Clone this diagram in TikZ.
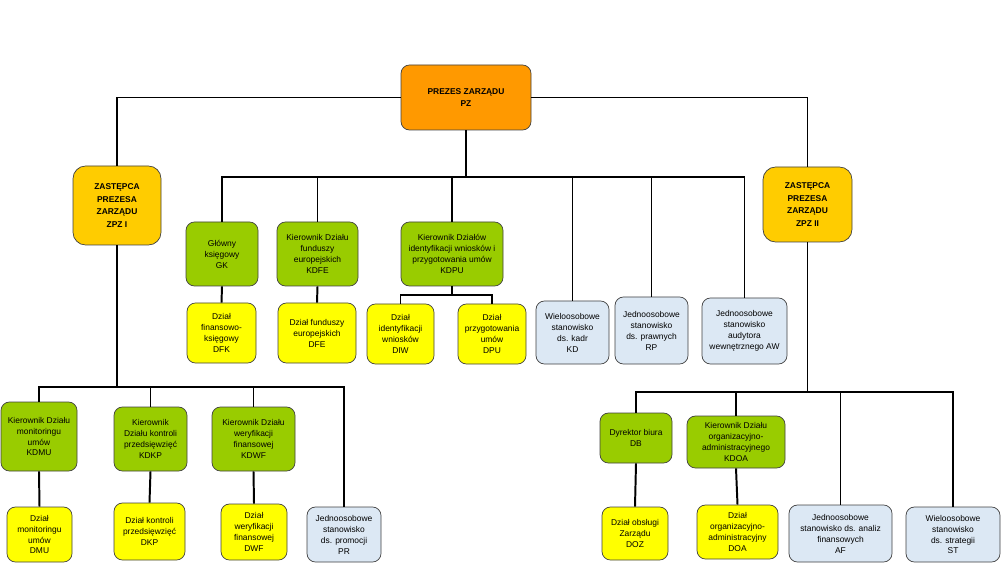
\documentclass[tikz,border=0pt]{standalone}
\usepackage{fontspec}
\setmainfont{Liberation Sans}
\usetikzlibrary{calc,positioning}

\definecolor{cOrange}{HTML}{FF9900}
\definecolor{cGold}{HTML}{FFCC00}
\definecolor{cGreen}{HTML}{99CC00}
\definecolor{cYellow}{HTML}{FFFF00}
\definecolor{cBlue}{HTML}{DCE8F4}

\begin{document}
\begin{tikzpicture}[
    x=0.025cm, y=-0.025cm,
    box/.style   = {draw=black!75, line width=0.5pt, rounded corners=6pt,
                    align=center, inner sep=1pt,
                    font=\fontsize{6}{7.8}\selectfont},
    sz/.style 2 args = {minimum width=#1*0.025cm, minimum height=#2*0.025cm},
    prez/.style  = {box, fill=cOrange, font=\fontsize{6}{8.5}\selectfont\bfseries},
    zast/.style  = {box, fill=cGold, rounded corners=9pt,
                    font=\fontsize{6}{8.8}\selectfont\bfseries},
    kier/.style  = {box, fill=cGreen},
    dzial/.style = {box, fill=cYellow},
    stan/.style  = {box, fill=cBlue},
    link/.style  = {line width=1.4pt, black}
  ]

  \useasboundingbox (0,0) rectangle (1004,563);

  % zarzad
  \node[prez, sz={130}{65}] (PZ)   at (466,97.5)  {PREZES ZARZĄDU\\PZ};
  \node[zast, sz={88}{79}]  (ZPZI) at (117,205.5) {ZASTĘPCA\\PREZESA\\ZARZĄDU\\ZPZ I};
  \node[zast, sz={89}{75}]  (ZPZII) at (807.5,204.5) {ZASTĘPCA\\PREZESA\\ZARZĄDU\\ZPZ II};

  % podlegli prezesowi
  \node[kier, sz={72}{64}]  (GK)   at (222,254)   {Główny\\księgowy\\GK};
  \node[kier, sz={81}{64}]  (KDFE) at (317.5,254) {Kierownik Działu\\funduszy\\europejskich\\KDFE};
  \node[kier, sz={102}{64}] (KDPU) at (452,254)   {Kierownik Działów\\identyfikacji wniosków i\\przygotowania umów\\KDPU};

  \node[dzial, sz={69}{60}] (DFK) at (221.5,333) {Dział\\finansowo-\\księgowy\\DFK};
  \node[dzial, sz={78}{60}] (DFE) at (317,333)   {Dział funduszy\\europejskich\\DFE};
  \node[dzial, sz={67}{60}] (DIW) at (400.5,334) {Dział\\identyfikacji\\wniosków\\DIW};
  \node[dzial, sz={68}{60}] (DPU) at (492,334)   {Dział\\przygotowania\\umów\\DPU};

  \node[stan, sz={73}{63}] (KD) at (572.5,332.5) {Wieloosobowe\\stanowisko\\ds. kadr\\KD};
  \node[stan, sz={73}{67}] (RP) at (651.5,330.5) {Jednoosobowe\\stanowisko\\ds. prawnych\\RP};
  \node[stan, sz={85}{66}] (AW) at (744.5,331)   {Jednoosobowe\\stanowisko\\audytora\\wewnętrznego AW};

  % pion ZPZ I
  \node[kier, sz={76}{69}] (KDMU) at (39,436.5)  {Kierownik Działu\\monitoringu\\umów\\KDMU};
  \node[kier, sz={73}{64}] (KDKP) at (150.5,439) {Kierownik\\Działu kontroli\\przedsięwzięć\\KDKP};
  \node[kier, sz={83}{64}] (KDWF) at (253.5,439) {Kierownik Działu\\weryfikacji\\finansowej\\KDWF};

  \node[dzial, sz={65}{55}] (DMU) at (39.5,534.5) {Dział\\monitoringu\\umów\\DMU};
  \node[dzial, sz={71}{57}] (DKP) at (149.5,531.5) {Dział kontroli\\przedsięwzięć\\DKP};
  \node[dzial, sz={66}{56}] (DWF) at (254,532)    {Dział\\weryfikacji\\finansowej\\DWF};
  \node[stan,  sz={74}{55}] (PR)  at (344,534.5)  {Jednoosobowe\\stanowisko\\ds. promocji\\PR};

  % pion ZPZ II
  \node[kier, sz={72}{50}] (DB)   at (636,438) {Dyrektor biura\\DB};
  \node[kier, sz={98}{52}] (KDOA) at (736,442) {Kierownik Działu\\organizacyjno-\\administracyjnego\\KDOA};

  \node[dzial, sz={66}{53}]  (DOZ) at (635,533.5)   {Dział obsługi\\Zarządu\\DOZ};
  \node[dzial, sz={81}{54}]  (DOA) at (737.5,532)   {Dział\\organizacyjno-\\administracyjny\\DOA};
  \node[stan,  sz={103}{57}] (AF)  at (840.5,533.5) {Jednoosobowe\\stanowisko ds. analiz\\finansowych\\AF};
  \node[stan,  sz={94}{55}]  (ST)  at (953,534.5)   {Wieloosobowe\\stanowisko\\ds. strategii\\ST};

  % polaczenia
  \draw[link] (ZPZI.north) |- (PZ.west);
  \draw[link] (ZPZII.north) |- (PZ.east);

  \coordinate (busPZ) at ($(PZ.south)+(0,47)$);
  \draw[link] (PZ.south) -- (busPZ);
  \foreach \n in {GK,KDFE,KDPU,KD,RP,AW}
    \draw[link] (busPZ) -| (\n.north);

  \coordinate (busKDPU) at ($(KDPU.south)+(0,9)$);
  \draw[link] (KDPU.south) -- (busKDPU);
  \foreach \n in {DIW,DPU}
    \draw[link] (busKDPU) -| (\n.north);

  \coordinate (busZI) at (ZPZI.south |- 0,387);
  \draw[link] (ZPZI.south) -- (busZI);
  \foreach \n in {KDMU,KDKP,KDWF,PR}
    \draw[link] (busZI) -| (\n.north);

  \coordinate (busZII) at (ZPZII.south |- 0,392);
  \draw[link] (ZPZII.south) -- (busZII);
  \foreach \n in {DB,KDOA,AF,ST}
    \draw[link] (busZII) -| (\n.north);

  \foreach \a/\b in {GK/DFK,KDFE/DFE,KDMU/DMU,KDKP/DKP,KDWF/DWF,DB/DOZ,KDOA/DOA}
    \draw[link] (\a.south) -- (\b.north);

\end{tikzpicture}
\end{document}
